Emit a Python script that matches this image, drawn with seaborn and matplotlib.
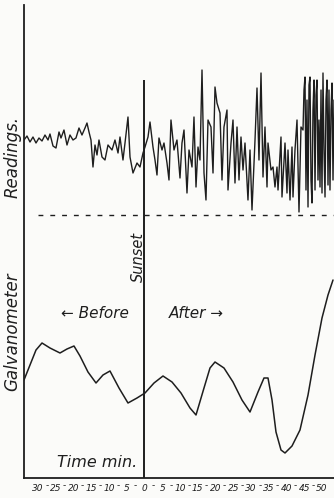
import numpy as np
import pandas as pd
import matplotlib
matplotlib.use("Agg")
import matplotlib.pyplot as plt
import seaborn as sns

# galvanometer trace (upper record), time in minutes from sunset
trace_min = [-33.94, -33.10, -32.25, -31.41, -30.56, -29.72, -28.87, -28.03, -27.18, -26.62,
             -25.77, -24.93, -24.08, -23.52, -22.68, -21.83, -20.99, -20.14, -19.30, -18.45,
             -17.61, -16.76, -16.20, -15.63, -15.07, -14.51, -13.94, -13.38, -12.82, -11.97,
             -11.13, -10.28, -9.15, -8.31, -7.46, -6.90, -6.06, -5.49, -4.65, -4.08,
             -3.24, -2.11, -1.27, -0.42, 0.14, 0.99, 1.55, 2.39, 2.96, 3.52,
             4.08, 4.93, 5.49, 6.34, 6.90, 7.46, 8.31, 9.15, 10.00, 10.56,
             11.13, 11.97, 12.54, 13.38, 13.94, 14.51, 15.07, 15.63, 16.20, 16.76,
             17.32, 17.89, 18.73, 19.30, 19.86, 20.42, 21.27, 21.83, 22.39, 23.24,
             23.52, 24.37, 24.93, 25.49, 26.06, 26.62, 27.18, 27.75, 28.31, 29.15,
             29.72, 30.28, 31.13, 31.69, 32.25, 32.82, 33.38, 33.94, 34.51, 34.79,
             35.63, 36.20, 36.76, 37.32, 37.61, 38.45, 38.73, 39.58, 40.14, 40.42,
             40.99, 41.55, 41.83, 42.39, 42.96, 43.52, 44.08, 44.65, 44.93, 45.21,
             45.49, 45.77, 46.06, 46.34, 46.62, 46.90, 47.18, 47.46, 47.75, 48.03,
             48.31, 48.59, 48.87, 49.15, 49.44, 49.72, 50.00, 50.28, 50.56, 50.85,
             51.13, 51.41, 51.69, 51.97, 52.25, 52.54, 52.82, 53.10, 53.38]
trace_val = [33.8, 34.2, 33.6, 34.1, 33.5, 34.0, 33.7, 34.3, 33.8, 34.4,
             33.2, 33.0, 34.6, 34.0, 34.8, 33.3, 34.3, 33.8, 34.0, 35.0,
             34.3, 35.0, 35.5, 34.6, 33.8, 31.1, 33.3, 32.3, 33.8, 32.1,
             31.8, 33.3, 32.8, 33.8, 32.5, 34.1, 31.8, 33.5, 36.1, 32.1,
             30.5, 31.5, 31.1, 32.5, 33.1, 34.1, 35.6, 33.1, 31.8, 30.3,
             34.0, 32.8, 33.5, 31.5, 29.8, 35.8, 32.8, 33.8, 30.0, 33.5,
             34.8, 28.5, 32.8, 31.1, 36.1, 29.1, 33.1, 31.8, 40.8, 30.5,
             27.8, 35.8, 35.1, 30.5, 39.1, 37.5, 36.5, 29.8, 35.1, 36.8,
             28.8, 33.5, 35.8, 29.5, 35.1, 29.8, 34.1, 30.8, 33.5, 27.8,
             32.8, 26.8, 33.8, 39.0, 31.8, 40.5, 30.1, 35.1, 29.1, 33.5,
             30.8, 31.1, 29.1, 31.1, 28.8, 34.1, 28.1, 33.5, 28.5, 32.8,
             27.8, 33.1, 28.1, 32.8, 35.8, 26.6, 35.1, 34.8, 38.8, 40.1,
             28.8, 37.8, 27.1, 39.3, 40.1, 29.8, 27.5, 36.8, 39.8, 28.8,
             38.3, 39.8, 29.8, 35.8, 29.1, 38.8, 28.5, 40.5, 32.8, 28.1,
             37.8, 39.8, 29.3, 38.8, 28.8, 36.8, 39.5, 29.8, 37.8]

# smoothed curve (lower record)
curve_min = [-33.94, -32.25, -30.56, -28.87, -26.62, -23.80, -21.83, -19.86, -18.17, -15.92,
             -13.66, -11.69, -9.72, -7.18, -4.65, -2.11, 0.14, 2.68, 5.21, 7.75,
             10.28, 12.82, 14.51, 16.76, 18.45, 19.86, 22.39, 24.93, 27.46, 29.72,
             31.97, 33.66, 34.79, 35.92, 37.04, 38.45, 39.58, 41.55, 43.80, 46.06,
             48.03, 50.00, 51.69, 53.10]
curve_val = [9.8, 11.3, 12.8, 13.5, 13.0, 12.5, 12.9, 13.2, 12.2, 10.6,
             9.5, 10.3, 10.7, 9.0, 7.5, 8.0, 8.5, 9.5, 10.2, 9.6,
             8.5, 7.0, 6.3, 9.0, 11.0, 11.6, 11.0, 9.6, 7.8, 6.6,
             8.6, 10.0, 10.0, 7.8, 4.6, 2.8, 2.5, 3.2, 4.8, 8.3,
             12.3, 16.0, 18.3, 19.8]

tick_pos = [-30, -25, -20, -15, -10, -5, 0, 5, 10, 15, 20, 25, 30, 35, 40, 45, 50]
tick_txt = ["30", "25", "20", "15", "10", "5", "0", "5", "10", "15", "20", "25",
            "30", "35", "40", "45", "50"]
baseline = 26.3

ink = "#1e1e1e"
paper = "#fbfbf9"

sns.set_style("white")
plt.rcParams["font.family"] = ["DejaVu Sans"]

fig = plt.figure(figsize=(3.34, 4.98), dpi=100, facecolor=paper)
ax = fig.add_axes([24 / 334, 20 / 498, 310 / 334, 478 / 498])
ax.set_facecolor(paper)

trace = pd.DataFrame({"t": trace_min, "v": trace_val})
curve = pd.DataFrame({"t": curve_min, "v": curve_val})
sns.lineplot(data=trace, x="t", y="v", ax=ax, color=ink, lw=1.0, estimator=None, sort=False)
sns.lineplot(data=curve, x="t", y="v", ax=ax, color=ink, lw=1.1, estimator=None, sort=False)

ax.plot([-30, 54], [baseline, baseline], color=ink, lw=1.0, dashes=(3.5, 5))
ax.plot([0, 0], [0, 39.8], color=ink, lw=1.4, solid_capstyle="butt")

ax.set_xlim(-33.94, 53.38)
ax.set_ylim(0, 47.8)
sns.despine(ax=ax, top=True, right=True)
ax.spines["left"].set_bounds(0, 47.3)
for s in ("left", "bottom"):
    ax.spines[s].set_color(ink)
    ax.spines[s].set_linewidth(1.3)

ax.set_yticks([])
ax.set_xticks(tick_pos)
ax.set_xticklabels(tick_txt, fontsize=6.5, style="italic", color=ink)
mids = [p + 2.5 for p in tick_pos[:-1]]
ax.set_xticks(mids, minor=True)
ax.set_xticklabels(["-"] * len(mids), minor=True, fontsize=6.5, color=ink)
ax.tick_params(axis="x", which="major", direction="inout", length=4, width=0.8, color=ink, pad=2)
ax.tick_params(axis="x", which="minor", length=0, pad=2)
ax.set_xlabel("")
ax.set_ylabel("")

txt = dict(color=ink, style="italic")
ax.text(-37.3, 32.1, "Readings.", rotation=90, ha="center", va="center", fontsize=12, clip_on=False, **txt)
ax.text(-37.3, 14.6, "Galvanometer", rotation=90, ha="center", va="center", fontsize=12, clip_on=False, **txt)
ax.text(-1.6, 22.1, "Sunset", rotation=90, ha="center", va="center", fontsize=10.5, **txt)
ax.text(-13.9, 16.5, "\u2190 Before", ha="center", va="center", fontsize=11, **txt)
ax.text(14.5, 16.5, "After \u2192", ha="center", va="center", fontsize=11, **txt)
ax.text(-13.4, 1.6, "Time min.", ha="center", va="center", fontsize=11.5, **txt)

fig.savefig("out.png", dpi=100, facecolor=paper)
